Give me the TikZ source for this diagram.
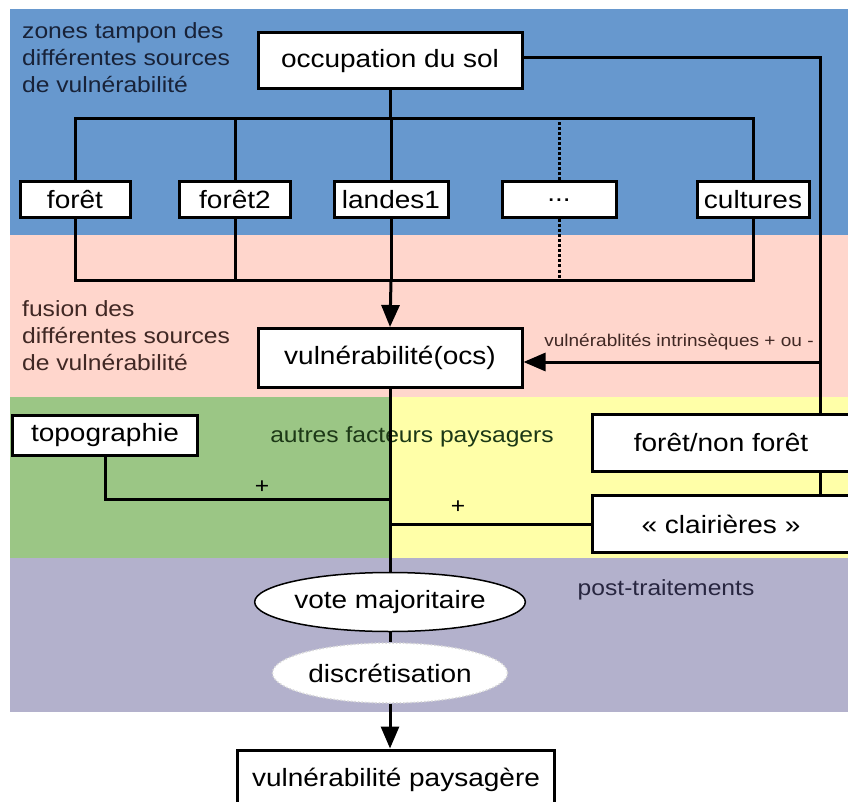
\documentclass[tikz,border=0pt]{standalone}
\usepackage{fontspec}
\setmainfont{Liberation Sans}[FakeStretch=1.12]
\usetikzlibrary{shapes.geometric,arrows.meta}

\definecolor{fondbleu}{RGB}{103,152,206}
\definecolor{fondrose}{RGB}{255,214,204}
\definecolor{fondvert}{RGB}{155,198,133}
\definecolor{fondjaune}{RGB}{255,255,168}
\definecolor{fondmauve}{RGB}{179,177,204}
\definecolor{encrebleu}{RGB}{24,34,56}
\definecolor{encrerose}{RGB}{64,40,36}
\definecolor{encrevert}{RGB}{28,56,22}
\definecolor{encremauve}{RGB}{40,38,64}

\tikzset{
  boite/.style={draw=black, line width=3pt, fill=white, inner sep=0pt,
    font=\fontsize{25}{30}\selectfont},
  ovale/.style={ellipse, fill=white, inner sep=0pt,
    font=\fontsize{25}{30}\selectfont},
  legende/.style={align=left, anchor=west, inner sep=0pt,
    font=\fontsize{22}{27}\selectfont},
  signe/.style={inner sep=0pt, font=\fontsize{22}{26}\selectfont},
  trait/.style={line width=3pt},
  fleche/.style={line width=3pt, -{Triangle[length=22pt,width=18pt]}},
}

\begin{document}
\begin{tikzpicture}[x=1pt, y=-1pt]
			%%%%% START %%%%%
			\useasboundingbox (0,0) rectangle (848,802);
			
			\fill[fondbleu] (10,9) rectangle (848,235);
			\fill[fondrose] (10,235) rectangle (848,397);
			\fill[fondvert] (10,397) rectangle (390,558);
			\fill[fondjaune] (390,397) rectangle (848,558);
			\fill[fondmauve] (10,558) rectangle (848,712);
			
			\node[legende, text=encrebleu] (ltampon) at (22,58) {zones tampon des\\différentes sources\\de vulnérabilité};
			\node[legende, text=encrerose] (lfusion) at (22,336) {fusion des\\différentes sources\\de vulnérabilité};
			\node[legende, anchor=center, text=encrevert] (lautres) at (412,437) {autres facteurs paysagers};
			\node[legende, anchor=center, text=encremauve] (lpost) at (666,590) {post-traitements};
			
			\node[boite, minimum width=264pt, minimum height=56pt] (occ) at (390,61) {occupation du sol};
			
			\node[boite, minimum width=110pt, minimum height=36pt] (foret) at (75,200) {forêt};
			\node[boite, minimum width=111pt, minimum height=36pt] (foret2) at (235,200) {forêt2};
			\node[boite, minimum width=114pt, minimum height=36pt] (landes) at (391,200) {landes1};
			\node[boite, minimum width=114pt, minimum height=36pt] (autres) at (559,200) {...};
			\node[boite, minimum width=112pt, minimum height=36pt] (cultures) at (753,200) {cultures};
			
			\coordinate (bushaut) at (0,119);
			\coordinate (busbas) at (0,280);
			\coordinate (droite) at (820,0);
			
			\draw[trait] (occ.south) -- (occ.south |- bushaut);
			\draw[trait] (foret.north) -- (foret.north |- bushaut) -- (cultures.north |- bushaut) -- (cultures.north);
			\draw[trait] (foret2.north) -- (foret2.north |- bushaut);
			\draw[trait] (landes.north) -- (landes.north |- bushaut);
			\draw[trait, dotted] (autres.north) -- (autres.north |- bushaut);
			
			\draw[trait] (foret.south) -- (foret.south |- busbas) -- (cultures.south |- busbas) -- (cultures.south);
			\draw[trait] (foret2.south) -- (foret2.south |- busbas);
			\draw[trait, dotted] (autres.south) -- (autres.south |- busbas);
			
			\node[boite, minimum width=264pt, minimum height=59pt] (ocs) at (390,358) {vulnérabilité(ocs)};
			\draw[trait] (landes.south) -- (landes.south |- busbas);
			\draw[fleche] (landes.south |- busbas) -- (ocs.north);
			
			\node[boite, minimum width=258pt, minimum height=57pt] (fnf) at (721,443) {forêt/non forêt};
			\node[boite, minimum width=258pt, minimum height=57pt] (clair) at (721,524) {«~clairières~»};
			\node[boite, minimum width=185pt, minimum height=40pt] (topo) at (105,435) {topographie};
			
			\draw[trait] ([yshift=3pt]occ.east) -| (fnf.north -| droite);
			\draw[trait] (fnf.south -| droite) -- (clair.north -| droite);
			\draw[fleche] ([yshift=-4pt]ocs.east -| droite) -- ([yshift=-4pt]ocs.east);
			\node[inner sep=0pt, font=\fontsize{17}{20}\selectfont, text=encrerose] (lintrins) at (679,342) {vulnérablités intrinsèques + ou -};
			
			\node[ovale, draw=black, line width=1.5pt, minimum width=235pt, minimum height=59pt] (vote) at (390,602) {vote majoritaire};
			\node[ovale, draw=black!15, dotted, line width=1.5pt, minimum width=235pt, minimum height=60pt] (discr) at (390,673) {discrétisation};
			\node[boite, minimum width=317pt, minimum height=60pt] (final) at (396,780) {vulnérabilité paysagère};
			
			\coordinate (jtopo) at (390,499);
			\draw[trait] (ocs.south) -- (vote.north);
			\draw[trait] (topo.south) |- (jtopo);
			\draw[trait] (clair.west) -- (clair.west -| ocs.south);
			\node[signe] (plus1) at (262,487) {+};
			\node[signe] (plus2) at (458,507) {+};
			
			\draw[trait] (vote.south) -- (discr.north);
			\draw[fleche] (discr.south) -- (final.north -| discr.south);
			
			%%%%% END %%%%%
\end{tikzpicture}
\end{document}
